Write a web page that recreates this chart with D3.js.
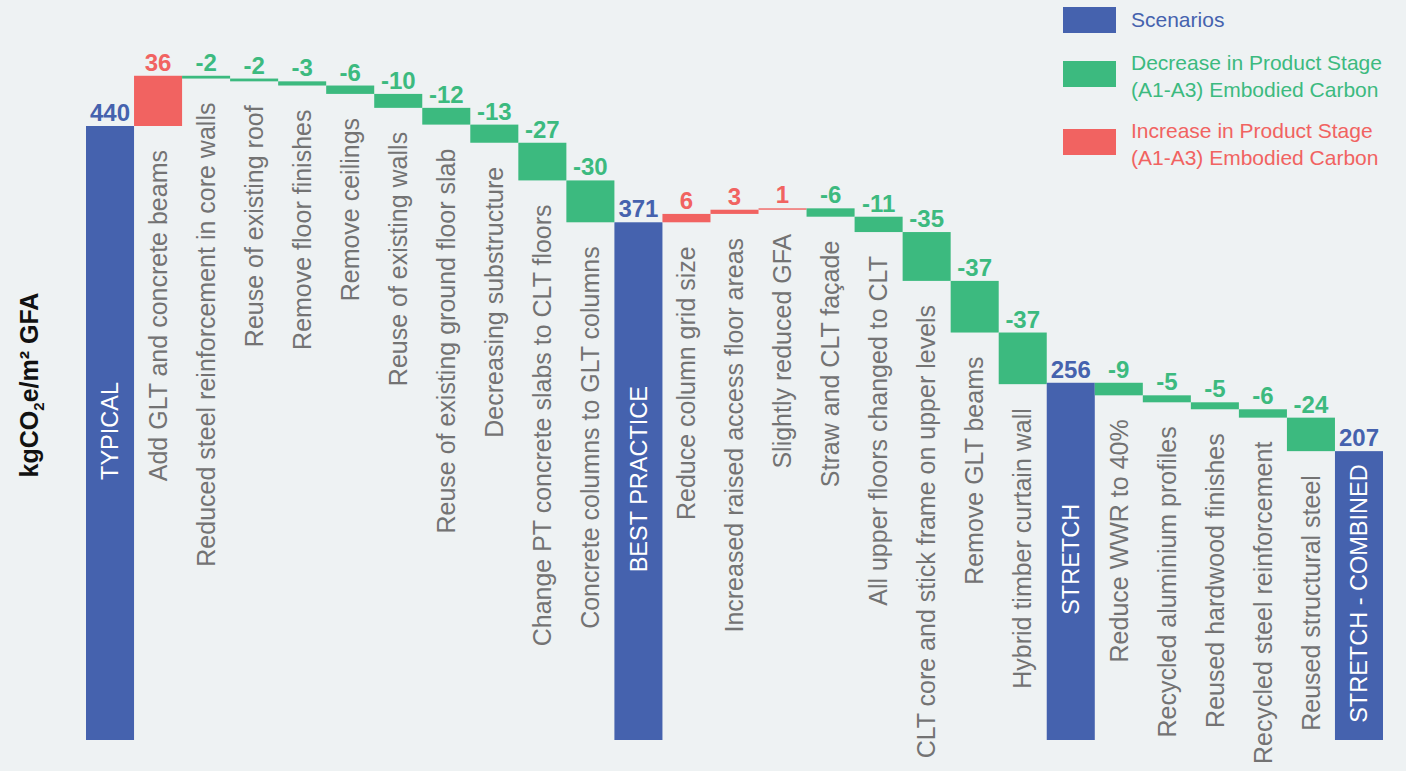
<!DOCTYPE html>
<html>
<head>
<meta charset="utf-8">
<script src="https://cdn.jsdelivr.net/npm/d3@7"></script>
<style>
  body { margin: 0; background: #eef2f3; }
  svg { display: block; font-family: "Liberation Sans", Arial, Helvetica, sans-serif; }
</style>
</head>
<body>
<svg id="chart" width="1406" height="771"></svg>
<script>
// categories in drawing order (scenarios are full bars, the rest are steps)
const categories = [
  "TYPICAL",
  "Add GLT and concrete beams",
  "Reduced steel reinforcement in core walls",
  "Reuse of existing roof",
  "Remove floor finishes",
  "Remove ceilings",
  "Reuse of existing walls",
  "Reuse of existing ground floor slab",
  "Decreasing substructure",
  "Change PT concrete slabs to CLT floors",
  "Concrete columns to GLT columns",
  "BEST PRACTICE",
  "Reduce column grid size",
  "Increased raised access floor areas",
  "Slightly reduced GFA",
  "Straw and CLT façade",
  "All upper floors changed to CLT",
  "CLT core and stick frame on upper levels",
  "Remove GLT beams",
  "Hybrid timber curtain wall",
  "STRETCH",
  "Reduce WWR to 40%",
  "Recycled aluminium profiles",
  "Reused hardwood finishes",
  "Recycled steel reinforcement",
  "Reused structural steel",
  "STRETCH - COMBINED"
];

const values = [440, 36, -2, -2, -3, -6, -10, -12, -13, -27, -30,
                371, 6, 3, 1, -6, -11, -35, -37, -37,
                256, -9, -5, -5, -6, -24,
                207];

const scenarios = ["TYPICAL", "BEST PRACTICE", "STRETCH", "STRETCH - COMBINED"];

const legendLabels = [
  ["Scenarios"],
  ["Decrease in Product Stage", "(A1-A3) Embodied Carbon"],
  ["Increase in Product Stage", "(A1-A3) Embodied Carbon"]
];

const BLUE = "#4562ae", GREEN = "#3cba7f", RED = "#f16361", GREY = "#737373";
const colorOf = {total: BLUE, dec: GREEN, inc: RED};

// running totals for the waterfall
let running = 0;
const rows = categories.map((c, i) => {
    const v = values[i];
    let start, end, type;
    if (scenarios.includes(c)) {
        start = 0; end = v; type = "total"; running = v;
    } else {
        start = running; end = running + v; running = end;
        type = v < 0 ? "dec" : "inc";
    }
    return {c, v, start, end, type};
});

const svg = d3.select("#chart");

const x = d3.scaleBand()
    .domain(categories)
    .range([86, 1383])
    .padding(0);

const y = d3.scaleLinear()
    .domain([0, 440])
    .range([740, 126]);

const bw = x.bandwidth();

// bars
svg.append("g").selectAll("rect")
    .data(rows)
    .join("rect")
    .attr("x", d => x(d.c))
    .attr("width", bw)
    .attr("y", d => y(Math.max(d.start, d.end)))
    .attr("height", d => Math.max(1, Math.abs(y(d.start) - y(d.end))))
    .attr("fill", d => colorOf[d.type]);

// value labels above bars
svg.append("g").selectAll("text")
    .data(rows)
    .join("text")
    .attr("x", d => x(d.c) + bw / 2)
    .attr("y", d => y(Math.max(d.start, d.end)) - 5)
    .attr("text-anchor", "middle")
    .attr("font-size", 24)
    .attr("font-weight", "bold")
    .attr("fill", d => colorOf[d.type])
    .text(d => d.v);

// category labels (rotated)
svg.append("g").selectAll("text")
    .data(rows)
    .join("text")
    .attr("transform", d => {
        const cx = x(d.c) + bw / 2;
        if (d.type == "total")
            return `translate(${cx},${(y(d.v) + y(0)) / 2 - 2}) rotate(-90)`;
        return `translate(${cx},${y(Math.min(d.start, d.end)) + 24}) rotate(-90)`;
    })
    .attr("text-anchor", d => d.type == "total" ? "middle" : "end")
    .attr("dy", "0.35em")
    .attr("font-size", d => d.type == "total" ? 23.5 : 25)
    .attr("fill", d => d.type == "total" ? "#ffffff" : GREY)
    .text(d => d.c);

// y axis title
const title = svg.append("text")
    .attr("transform", "translate(38,385) rotate(-90)")
    .attr("text-anchor", "middle")
    .attr("font-size", 25)
    .attr("font-weight", "bold")
    .attr("fill", "#111");
title.append("tspan").text("kgCO");
title.append("tspan").attr("font-size", 15).attr("dy", 6).text("2");
title.append("tspan").attr("dy", -6).text("e/m² GFA");

// legend
const legendColors = [BLUE, GREEN, RED];
const legendY = [7, 61, 129];
const legend = svg.append("g");
legendLabels.forEach((lines, i) => {
    legend.append("rect")
        .attr("x", 1063)
        .attr("y", legendY[i])
        .attr("width", 53)
        .attr("height", 26)
        .attr("fill", legendColors[i]);
    const t = legend.append("text")
        .attr("x", 1131)
        .attr("y", legendY[i] + 20 - (lines.length > 1 ? 11 : 0))
        .attr("font-size", 21)
        .attr("fill", legendColors[i]);
    lines.forEach((l, j) => {
        t.append("tspan").attr("x", 1131).attr("dy", j == 0 ? 0 : 27).text(l);
    });
});
</script>
</body>
</html>
